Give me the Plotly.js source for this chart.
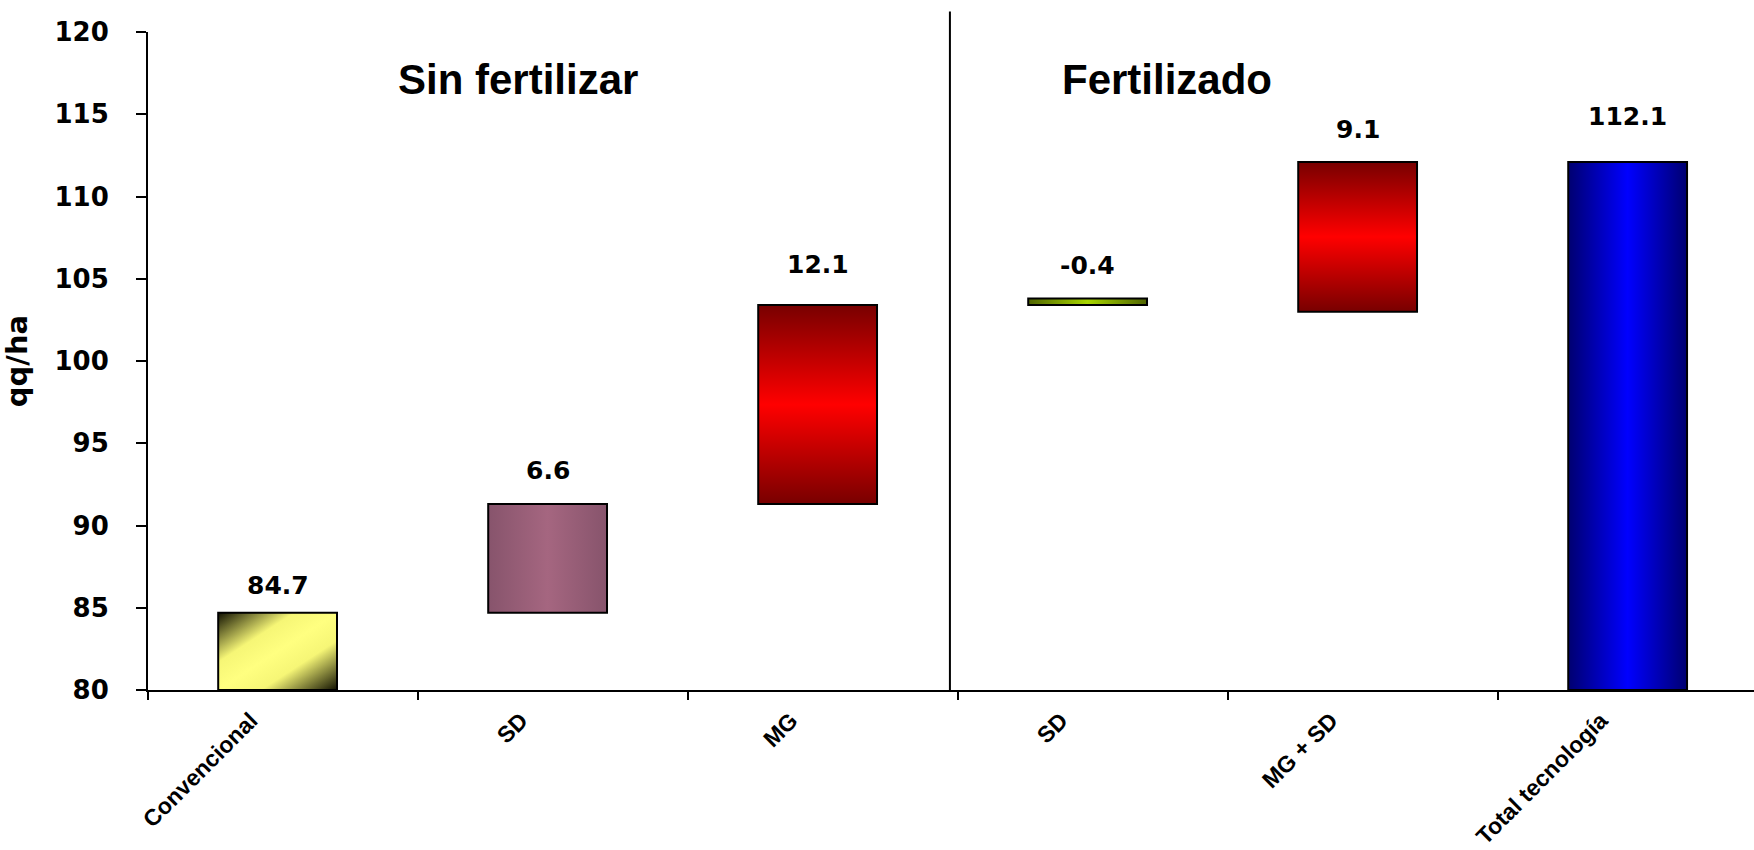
<!DOCTYPE html>
<html>
<head>
<meta charset="utf-8">
<script src="https://cdn.plot.ly/plotly-3.0.1.min.js"></script>
<style>
  html, body { margin: 0; padding: 0; background: #ffffff; }
  #chart { width: 1754px; height: 850px; }
  #gradDefs { position: absolute; width: 0; height: 0; overflow: hidden; }
</style>
</head>
<body>
<svg id="gradDefs" xmlns="http://www.w3.org/2000/svg">
  <defs>
    <linearGradient id="grad0" x1="0" y1="0" x2="1" y2="1">
      <stop offset="0" stop-color="#101000"/>
      <stop offset="0.32" stop-color="#f6f676"/>
      <stop offset="0.5" stop-color="#ffff80"/>
      <stop offset="0.68" stop-color="#f6f676"/>
      <stop offset="1" stop-color="#101000"/>
    </linearGradient>
    <linearGradient id="grad1" x1="0" y1="0" x2="1" y2="0">
      <stop offset="0" stop-color="#87546c"/>
      <stop offset="0.5" stop-color="#a56680"/>
      <stop offset="1" stop-color="#87546c"/>
    </linearGradient>
    <linearGradient id="grad2" x1="0" y1="0" x2="0" y2="1">
      <stop offset="0" stop-color="#780000"/>
      <stop offset="0.5" stop-color="#ff0000"/>
      <stop offset="1" stop-color="#780000"/>
    </linearGradient>
    <linearGradient id="grad3" x1="0" y1="0" x2="1" y2="0">
      <stop offset="0" stop-color="#4f6400"/>
      <stop offset="0.5" stop-color="#a8d600"/>
      <stop offset="1" stop-color="#4f6400"/>
    </linearGradient>
    <linearGradient id="grad4" x1="0" y1="0" x2="0" y2="1">
      <stop offset="0" stop-color="#780000"/>
      <stop offset="0.5" stop-color="#ff0000"/>
      <stop offset="1" stop-color="#780000"/>
    </linearGradient>
    <linearGradient id="grad5" x1="0" y1="0" x2="1" y2="0">
      <stop offset="0" stop-color="#000070"/>
      <stop offset="0.5" stop-color="#0000ff"/>
      <stop offset="1" stop-color="#000070"/>
    </linearGradient>
  </defs>
</svg>
<div id="chart"></div>
<script>
// ---- data ----
const categories = ['Convencional', 'SD', 'MG', 'SD', 'MG + SD', 'Total tecnología'];
const bases      = [80, 84.7, 91.3, 103.4, 103.0, 80];
const tops       = [84.7, 91.3, 103.4, 103.8, 112.1, 112.1];
const labels     = ['84.7', '6.6', '12.1', '-0.4', '9.1', '112.1'];
const groupTitles = ['Sin fertilizar', 'Fertilizado'];
const yTicks = [80, 85, 90, 95, 100, 105, 110, 115, 120];

// ---- styles ----
const fallbackColors = ['#ffff80', '#a06680', '#ff0000', '#a0d000', '#ff0000', '#0000ff'];
const labelShiftPx = [27, 34, 41, 33, 32, 45];
const xIdx = categories.map((_, i) => i);
const heights = tops.map((t, i) => +(t - bases[i]).toFixed(2));

const trace = {
  type: 'bar',
  x: xIdx,
  y: heights,
  base: bases,
  width: 0.44,
  offset: -0.24,
  marker: { color: fallbackColors, line: { color: '#000000', width: 2 } },
  hoverinfo: 'skip',
  showlegend: false
};

const annotations = labels.map((t, i) => ({
  x: i - 0.02, y: tops[i], xref: 'x', yref: 'y',
  text: t, showarrow: false, yshift: labelShiftPx[i], yanchor: 'middle',
  font: { family: 'DejaVu Sans', size: 25, weight: 'bold', color: '#000000' }
}));
annotations.push({
  x: 0.87, y: 117.13, xref: 'x', yref: 'y', text: groupTitles[0], showarrow: false,
  xanchor: 'center', yanchor: 'middle',
  font: { family: 'Liberation Sans', size: 42, weight: 'bold', color: '#000000' }
});
annotations.push({
  x: 3.274, y: 117.13, xref: 'x', yref: 'y', text: groupTitles[1], showarrow: false,
  xanchor: 'center', yanchor: 'middle',
  font: { family: 'Liberation Sans', size: 42, weight: 'bold', color: '#000000' }
});

const layout = {
  width: 1754, height: 850,
  margin: { l: 148, r: 0, t: 32, b: 160 },
  paper_bgcolor: '#ffffff', plot_bgcolor: '#ffffff',
  xaxis: {
    type: 'linear',
    range: [-0.5, 5.448],
    tickmode: 'array', tickvals: xIdx, ticktext: categories,
    ticks: '', tickangle: -45, ticklabelshift: -32, ticklabelstandoff: 6,
    tickfont: { family: 'Liberation Sans', size: 23, weight: 'bold', color: '#000000' },
    minor: { ticks: 'outside', tick0: -0.5, dtick: 1, ticklen: 8, tickwidth: 2, tickcolor: '#000000' },
    showline: true, linecolor: '#000000', linewidth: 2,
    showgrid: false, zeroline: false, fixedrange: true
  },
  yaxis: {
    range: [80, 120],
    tickmode: 'array', tickvals: yTicks,
    ticks: 'outside', ticklen: 10, tickwidth: 2, tickcolor: '#000000',
    ticklabelstandoff: 22,
    tickfont: { family: 'DejaVu Sans', size: 26, weight: 'bold', color: '#000000' },
    showline: true, linecolor: '#000000', linewidth: 2,
    showgrid: false, zeroline: false, fixedrange: true,
    title: { text: 'qq/ha', standoff: 48, font: { family: 'DejaVu Sans', size: 29, weight: 'bold', color: '#000000' } }
  },
  shapes: [{
    type: 'line', xref: 'x', yref: 'paper', x0: 2.47, x1: 2.47, y0: 0, y1: 1.031,
    line: { color: '#000000', width: 2 }
  }],
  annotations: annotations,
  bargap: 0.56
};

Plotly.newPlot('chart', [trace], layout, { displayModeBar: false, responsive: false }).then(gd => {
  const paths = gd.querySelectorAll('.barlayer .trace .point path');
  paths.forEach((p, i) => { p.style.fill = 'url(#grad' + i + ')'; });
});
</script>
</body>
</html>
